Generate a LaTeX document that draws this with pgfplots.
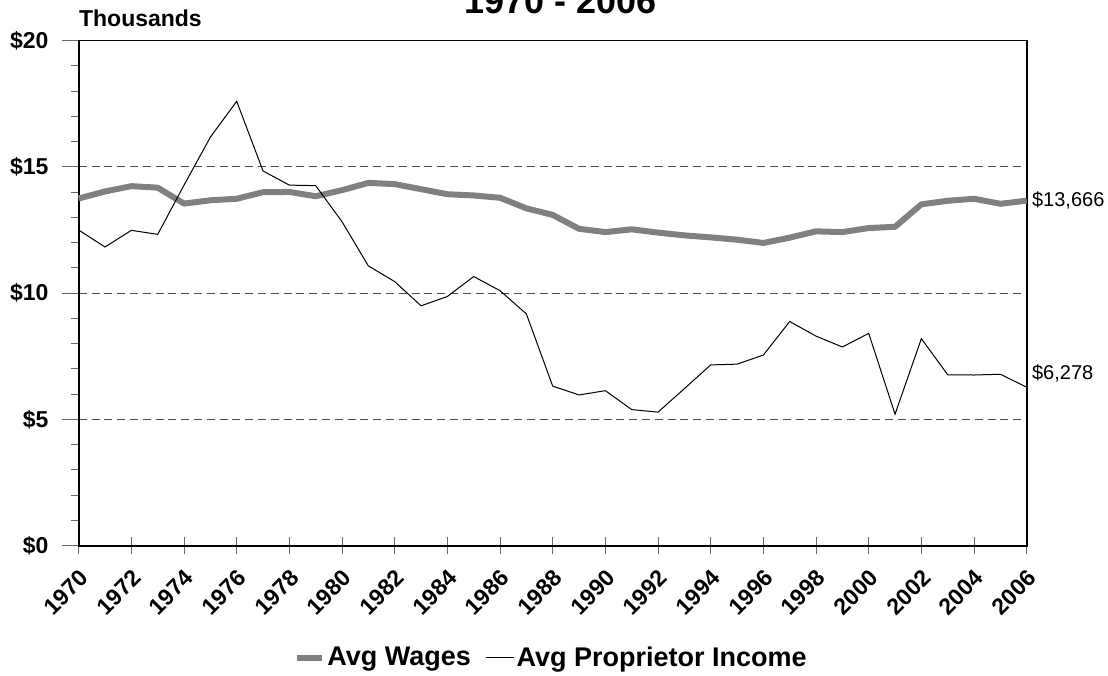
\documentclass[border=0pt]{standalone}
\usepackage{fontspec}
\setmainfont{Liberation Sans}
\usepackage{pgfplots}
\pgfplotsset{compat=1.18}
\definecolor{wagegray}{RGB}{128,128,128}

\pgfplotsset{
  wageleg/.style={legend image code/.code={\draw[##1, line cap=butt] (0pt,0pt) -- (12.5pt,0pt);}},
  propleg/.style={legend image code/.code={\draw[##1] (0pt,0pt) -- (14pt,0pt);}},
}

\pgfplotstableread{
year wages
1970 13.75
1971 14.03
1972 14.24
1973 14.18
1974 13.55
1975 13.68
1976 13.74
1977 14.00
1978 14.01
1979 13.84
1980 14.08
1981 14.37
1982 14.32
1983 14.12
1984 13.92
1985 13.87
1986 13.78
1987 13.36
1988 13.10
1989 12.55
1990 12.42
1991 12.53
1992 12.40
1993 12.29
1994 12.21
1995 12.12
1996 11.99
1997 12.20
1998 12.45
1999 12.42
2000 12.58
2001 12.63
2002 13.52
2003 13.66
2004 13.74
2005 13.54
2006 13.666
}\wagetable

\pgfplotstableread{
year prop
1970 12.50
1971 11.83
1972 12.49
1973 12.33
1974 14.28
1975 16.18
1976 17.60
1977 14.84
1978 14.28
1979 14.26
1980 12.83
1981 11.08
1982 10.46
1983 9.50
1984 9.87
1985 10.66
1986 10.10
1987 9.18
1988 6.32
1989 5.97
1990 6.14
1991 5.39
1992 5.29
1993 6.22
1994 7.16
1995 7.19
1996 7.55
1997 8.88
1998 8.30
1999 7.87
2000 8.41
2001 5.21
2002 8.20
2003 6.77
2004 6.76
2005 6.79
2006 6.278
}\proptable

\begin{document}
\begin{tikzpicture}
\begin{axis}[
  at={(0,0)}, anchor=south west,
  scale only axis, width=474pt, height=252.5pt,
  xmin=1970, xmax=2006, ymin=0, ymax=20,
  clip=false,
  axis line style={line width=0.8pt},
  xtick={1970,1972,...,2006},
  ytick={0,5,...,20},
  minor y tick num=4,
  tick align=outside, tick pos=left,
  major tick length=8.5pt, minor tick length=3.8pt,
  every tick/.style={black!60, line width=0.5pt},
  xtick style={yshift=4.25pt},
  xticklabel={\pgfmathprintnumber[fixed, precision=0, 1000 sep={}, assume math mode=true]{\tick}},
  xticklabel style={font=\fontsize{11.5}{13}\selectfont\bfseries, rotate=45, anchor=east, inner sep=0pt, yshift=-6pt, xshift=-2pt},
  yticklabel={\$\pgfmathprintnumber[assume math mode=true]{\tick}},
  yticklabel style={font=\fontsize{11.5}{13}\selectfont\bfseries, inner sep=0pt, xshift=-6.4pt},
  ymajorgrids,
  major grid style={black!70, line width=0.5pt, dash pattern=on 4pt off 2.4pt},
  legend style={at={(0.4987,-0.222)}, anchor=center, draw=none, fill=none,
    legend columns=2, inner sep=0pt,
    font=\fontsize{13.5}{15}\selectfont\bfseries,
    nodes={inner sep=1.2pt},
    /tikz/every even column/.append style={column sep=6pt}},
  legend cell align=left,
]
\addplot[wagegray, line width=3pt, line join=round, wageleg]
  table[x=year, y=wages] {\wagetable};
\addlegendentry{Avg Wages}
\addplot[black, line width=0.5pt, propleg]
  table[x=year, y=prop] {\proptable};
\addlegendentry{Avg Proprietor Income}

\node[anchor=base west, inner sep=0pt, font=\fontsize{11.5}{13}\selectfont\bfseries]
  at (axis description cs:0,1) [yshift=7pt] {Thousands};
\node[anchor=base, inner sep=0pt, font=\fontsize{18}{21}\selectfont\bfseries]
  at (axis description cs:0.508,1) [yshift=13.5pt] {1970 - 2006};
\node[anchor=west, inner sep=0pt, font=\fontsize{10}{12}\selectfont]
  at (axis cs:2006,13.666) [xshift=2.5pt] {\$13,666};
\node[anchor=west, inner sep=0pt, font=\fontsize{10}{12}\selectfont]
  at (axis cs:2006,6.84) [xshift=2.5pt] {\$6,278};
\end{axis}
\pgfresetboundingbox
\useasboundingbox (-39.35pt,-64.65pt) rectangle (514.65pt,272.85pt);
\end{tikzpicture}
\end{document}
